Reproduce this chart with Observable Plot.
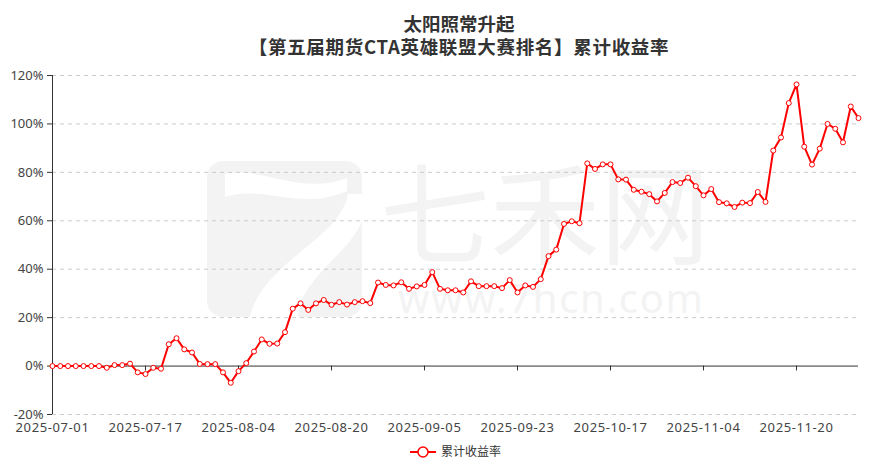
<!DOCTYPE html>
<html>
<head>
<meta charset="utf-8">
<script src="https://cdn.jsdelivr.net/npm/d3@7"></script>
<script src="https://cdn.jsdelivr.net/npm/@observablehq/plot@0.6"></script>
<style>
  body { margin: 0; background: #fff; }
  #wrap { position: relative; width: 892px; height: 470px; overflow: hidden; font-family: "Noto Sans CJK SC", "Noto Sans", sans-serif; }
  #wm { position: absolute; left: 0; top: 0; z-index: 0; }
  .title { position: absolute; left: 0; width: 918px; text-align: center; font-weight: bold; font-size: 18.5px; line-height: 22px; color: #333; z-index: 2; }
  #chart { position: absolute; left: 0; top: 60px; z-index: 1; }
  #chart g[aria-label="x-axis tick label"] text { letter-spacing: 0.6px; }
  #legend { position: absolute; left: 0; top: 0; z-index: 2; }
</style>
</head>
<body>
<div id="wrap">
  <svg id="wm" width="892" height="470">
    <rect x="207" y="161" width="155" height="156" rx="16" fill="#f3f3f3"/>
    <path d="M225,174 C262,166 300,196 347,178 L347,191 C300,212 262,184 225,197 Z" fill="#fff"/>
    <path d="M348,194 C340,240 262,262 250,317 L298,317 C300,278 352,252 362,220 L362,194 Z" fill="#fff"/>
    <text x="380" y="256" font-size="110" fill="#f3f3f3" font-family="Noto Sans CJK SC">七禾网</text>
    <text x="398" y="313" font-size="40" fill="#f3f3f3" font-family="Noto Sans" textLength="305" lengthAdjust="spacing">www.7hcn.com</text>
  </svg>
  <div class="title" style="top:12px;">太阳照常升起</div>
  <div class="title" style="top:35px; letter-spacing:0.7px;">【第五届期货CTA英雄联盟大赛排名】累计收益率</div>
  <div id="chart"></div>
  <svg id="legend" width="892" height="470">
    <line x1="410" y1="452" x2="436" y2="452" stroke="#ff0000" stroke-width="2"/>
    <circle cx="423" cy="452" r="5" fill="#fff" stroke="#ff0000" stroke-width="1.5"/>
    <text x="441" y="452" dy="0.35em" font-size="12" fill="#333" font-family="Noto Sans CJK SC">累计收益率</text>
  </svg>
</div>
<script>
const dates = [
  "2025-07-01","2025-07-02","2025-07-03","2025-07-04","2025-07-07","2025-07-08","2025-07-09","2025-07-10","2025-07-11","2025-07-14",
  "2025-07-15","2025-07-16","2025-07-17","2025-07-18","2025-07-21","2025-07-22","2025-07-23","2025-07-24","2025-07-25","2025-07-28",
  "2025-07-29","2025-07-30","2025-07-31","2025-08-01","2025-08-04","2025-08-05","2025-08-06","2025-08-07","2025-08-08","2025-08-11",
  "2025-08-12","2025-08-13","2025-08-14","2025-08-15","2025-08-18","2025-08-19","2025-08-20","2025-08-21","2025-08-22","2025-08-25",
  "2025-08-26","2025-08-27","2025-08-28","2025-08-29","2025-09-01","2025-09-02","2025-09-03","2025-09-04","2025-09-05","2025-09-08",
  "2025-09-09","2025-09-10","2025-09-11","2025-09-12","2025-09-15","2025-09-16","2025-09-17","2025-09-18","2025-09-19","2025-09-22",
  "2025-09-23","2025-09-24","2025-09-25","2025-09-26","2025-09-29","2025-09-30","2025-10-09","2025-10-10","2025-10-13","2025-10-14",
  "2025-10-15","2025-10-16","2025-10-17","2025-10-20","2025-10-21","2025-10-22","2025-10-23","2025-10-24","2025-10-27","2025-10-28",
  "2025-10-29","2025-10-30","2025-10-31","2025-11-03","2025-11-04","2025-11-05","2025-11-06","2025-11-07","2025-11-10","2025-11-11",
  "2025-11-12","2025-11-13","2025-11-14","2025-11-17","2025-11-18","2025-11-19","2025-11-20","2025-11-21","2025-11-24","2025-11-25",
  "2025-11-26","2025-11-27","2025-11-28","2025-12-01","2025-12-02"
];
// 累计收益率 (%)
const values = [
  0, 0, 0, 0, 0, 0, 0, -0.7, 0.4, 0.4,
  1.0, -2.6, -3.3, -0.7, -1.1, 9.0, 11.5, 6.9, 5.6, 0.9,
  0.8, 0.8, -2.6, -6.9, -2.1, 1.2, 6.0, 11.0, 9.2, 9.3,
  14.0, 23.7, 25.9, 23.2, 25.9, 27.3, 25.3, 26.4, 25.4, 26.4,
  26.8, 26.0, 34.5, 33.5, 33.3, 34.6, 31.9, 32.9, 33.5, 38.8,
  31.9, 31.3, 31.3, 30.4, 35.0, 33.0, 33.0, 33.0, 32.2, 35.5,
  30.4, 33.3, 32.7, 35.9, 45.4, 48.1, 58.7, 59.8, 59.0, 83.7,
  81.4, 83.3, 83.3, 77.1, 77.0, 72.8, 72.0, 71.0, 68.0, 71.5,
  76.0, 75.6, 77.8, 74.3, 70.5, 73.1, 67.7, 67.2, 65.7, 67.5,
  67.3, 71.9, 67.8, 89.0, 94.4, 108.6, 116.3, 90.6, 83.2, 89.8,
  100.0, 98.0, 92.4, 107.2, 102.4
];
const xTickLabels = ["2025-07-01","2025-07-17","2025-08-04","2025-08-20","2025-09-05","2025-09-23","2025-10-17","2025-11-04","2025-11-20"];
const yTicks = [-0.2, 0, 0.2, 0.4, 0.6, 0.8, 1.0, 1.2];
const yTickLabels = ["-20%","0%","20%","40%","60%","80%","100%","120%"];

const data = dates.map((d, i) => ({date: d, value: values[i] / 100}));

const plot = Plot.plot({
  width: 892,
  height: 384,
  marginLeft: 52,
  marginRight: 34,
  marginTop: 15,
  marginBottom: 30,
  style: {background: "transparent", fontFamily: "'Noto Sans', sans-serif", fontSize: "13px", color: "#444"},
  x: {type: "point", domain: dates, padding: 0},
  y: {domain: [-0.2, 1.2]},
  marks: [
    Plot.gridY(yTicks.filter(d => d !== 0), {stroke: "#cccccc", strokeOpacity: 1, strokeDasharray: "4,4"}),
    Plot.axisY(yTicks, {tickFormat: (d, i) => yTickLabels[i], tickSize: 5, tickPadding: 4, stroke: "#333", fontSize: 13, label: null}),
    Plot.axisX(xTickLabels, {tickSize: 0, tickPadding: 8, fontSize: 13, label: null}),
    Plot.ruleY([0], {stroke: "#333", strokeWidth: 1}),
    Plot.ruleX(xTickLabels, {y1: 0, y2: -0.02, stroke: "#333"}),
    Plot.ruleX([dates[0]], {y1: -0.2, y2: 1.2, stroke: "#333"}),
    Plot.line(data, {x: "date", y: "value", stroke: "#ff0000", strokeWidth: 2}),
    Plot.dot(data, {x: "date", y: "value", r: 2.5, fill: "white", stroke: "#ff0000", strokeWidth: 1})
  ]
});
document.getElementById("chart").appendChild(plot);
</script>
</body>
</html>
